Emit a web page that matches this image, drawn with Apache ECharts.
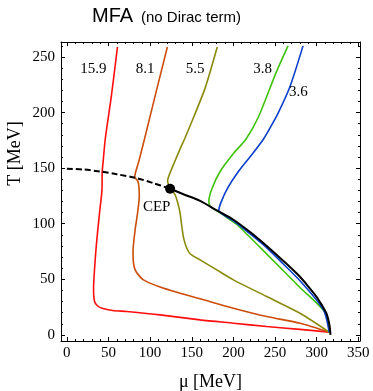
<!DOCTYPE html>
<html>
<head>
<meta charset="utf-8">
<script src="https://cdn.jsdelivr.net/npm/echarts@6/dist/echarts.min.js"></script>
<style>html,body{margin:0;padding:0;background:#fff}#c{width:373px;height:391px}</style>
</head>
<body>
<div id="c"></div>
<script>
// ---- data (μ [MeV], T [MeV]) ----
const xTicks = [0, 50, 100, 150, 200, 250, 300, 350];
const xMinorTicks = [10,20,30,40,60,70,80,90,110,120,130,140,160,170,180,190,210,220,230,240,260,270,280,290,310,320,330,340];
const yTicks = [0, 50, 100, 150, 200, 250];
const yMinorTicks = [10,20,30,40,60,70,80,90,110,120,130,140,160,170,180,190,210,220,230,240,260];

const boundaryDashed = [[0,149.5],[20,148.8],[40,147],[60,144.5],[84,141],[104,136.5],[124,131.5]];
const boundarySolid = [[124,131.5],[140,126.5],[160,120.6],[180,112],[199.6,103.8],[220,92.5],[240,80],[260,66.5],[279.6,52.5],[290,43.5],[299.6,34.5],[306,27],[311.6,19.5],[314.5,12],[316,5],[316.5,0]];
const cep = [[124,131.5]];

const s159 = [[60.8,259],[53.5,215],[46.1,176],[43.5,155],[42.5,147],[42.2,130.5],[39.3,110],[35.3,79.5],[32.5,50],[32.1,40.5],[33.3,30],[37,26],[42.2,24],[55,22],[72,21],[112,18],[160,13.5],[200,10.5],[240,7.5],[280,5],[315,2.5]];
const s81 = [[120.7,259],[107,218],[93.2,176],[86,155],[81.5,142],[85.5,138],[87,125],[85,110],[82,94.5],[79.5,75],[80,65],[82,58.5],[86,54],[92,49.5],[112,43],[136,37.5],[160,32.5],[200,24],[240,16.5],[280,10.5],[315,2.5]];
const s55 = [[180.6,259],[166,222],[151,193.5],[141.5,176.5],[135.5,166.5],[128.8,154.5],[122.5,143],[121,138.5],[124,132.5],[130,126],[133.5,118],[136,109.5],[138,98],[140,88],[143,80],[148,73],[160,67.5],[180,58.5],[200,49.5],[240,34.5],[280,19.5],[315,2.5]];
const s38 = [[265.6,260],[251,235.5],[230,196],[215,176],[199.8,163],[184,147],[174,131],[170.5,120],[172,115.8],[186,108.8],[200,101.5],[204,99.5],[239.8,72.9],[279.6,42.9],[310.8,19.5],[315,2.5]];
const s36 = [[283.6,260],[268,223.5],[254,200],[245,187.5],[236,176],[223,163],[206,147],[193,132],[185,119],[182.5,112],[190,107],[199.8,102.8],[219.8,91],[239.8,78.5],[259.6,64],[279.6,49],[299.6,31.5],[309.6,20],[315,2.5]];

const isentropeLabels = [
  {name:'15.9', value:[31.8,238.9]},
  {name:'8.1', value:[93.9,238.9]},
  {name:'5.5', value:[153.9,238.9]},
  {name:'3.8', value:[235.2,238.9]},
  {name:'3.6', value:[277.9,218.8]},
  {name:'CEP', value:[107.9,115.3]}
];

const serif = 'Liberation Serif';
const chart = echarts.init(document.getElementById('c'), null, {renderer:'canvas'});

function xAx(pos, major){
  return {
    type:'value', min:-7, max:352, position:pos,
    axisLine:{show:major, onZero:false, lineStyle:{color:'#000', width:1}},
    axisTick:{show:true, inside:true, length: major?4:2, customValues: major?xTicks:xMinorTicks, lineStyle:{color:'#000', width:1}},
    axisLabel:{show: major && pos==='bottom', customValues:xTicks, fontFamily:serif, fontSize:15, color:'#000', margin:5},
    splitLine:{show:false}
  };
}
function yAx(pos, major){
  return {
    type:'value', min:-5.5, max:263.5, position:pos,
    axisLine:{show:major, onZero:false, lineStyle:{color:'#000', width:1}},
    axisTick:{show:true, inside:true, length: major?4:2, customValues: major?yTicks:yMinorTicks, lineStyle:{color:'#000', width:1}},
    axisLabel:{show: major && pos==='left', customValues:yTicks, fontFamily:serif, fontSize:15, color:'#000', margin:6},
    splitLine:{show:false}
  };
}
function curve(data, color){
  return {type:'line', data:data, xAxisIndex:0, yAxisIndex:0, showSymbol:false, smooth:0.25,
    lineStyle:{color:color, width:1.6}, animation:false, z:2};
}

chart.setOption({
  animation:false,
  grid:{left:61, top:42, width:299, height:299},
  xAxis:[xAx('bottom',true), xAx('bottom',false), xAx('top',true), xAx('top',false)],
  yAxis:[yAx('left',true), yAx('left',false), yAx('right',true), yAx('right',false)],
  series:[
    curve(s159,'#ff0d0d'),
    curve(s81,'#cc4c0a'),
    curve(s55,'#8a8a0a'),
    curve(s38,'#3fc20a'),
    curve(s36,'#0a3fcc'),
    {type:'line', data:boundaryDashed, showSymbol:false, smooth:0.3, lineStyle:{color:'#000', width:2, type:[6,3]}, z:3},
    {type:'line', data:boundarySolid, showSymbol:false, smooth:0.3, lineStyle:{color:'#000', width:2}, z:3},
    {type:'scatter', data:cep, symbolSize:10, itemStyle:{color:'#000', opacity:1}, z:4},
    {type:'scatter', data:isentropeLabels, symbolSize:0, z:5, itemStyle:{opacity:1},
      label:{show:true, position:'inside', formatter:'{b}', fontFamily:serif, fontSize:15, color:'#000', opacity:1}}
  ],
  graphic:[
    {type:'text', x:92, y:16, style:{text:'MFA', font:'20px "Liberation Sans"', fill:'#000', verticalAlign:'middle', align:'left'}},
    {type:'text', x:141, y:18, style:{text:'(no Dirac term)', font:'15px "Liberation Sans"', fill:'#000', verticalAlign:'middle', align:'left'}},
    {type:'text', x:210.5, y:382, style:{text:'μ [MeV]', font:'18px "Liberation Serif"', fill:'#000', verticalAlign:'middle', align:'center'}},
    {type:'text', x:15, y:153.5, rotation:Math.PI/2, style:{text:'T [MeV]', font:'18px "Liberation Serif"', fill:'#000', verticalAlign:'middle', align:'center'}}
  ]
});
</script>
</body>
</html>
